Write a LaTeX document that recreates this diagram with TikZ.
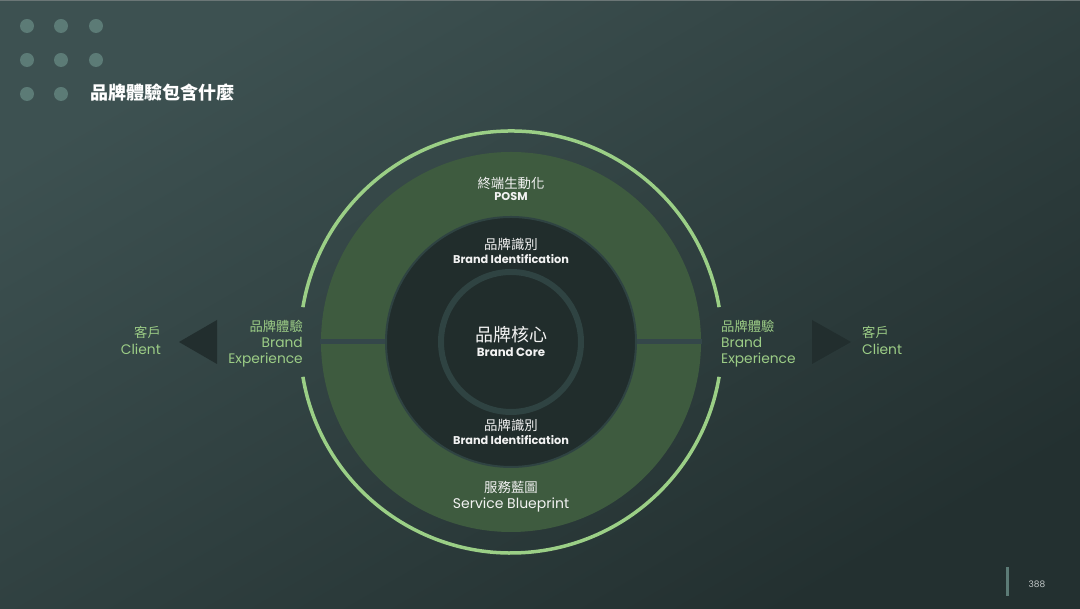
\documentclass[tikz,border=0pt]{standalone}
\usepackage{fontspec}
\setmainfont{Poppins}
\newfontfamily\cjk{Noto Sans CJK TC}
\definecolor{bgtop}{HTML}{3D5151}
\definecolor{bgbot}{HTML}{233030}
\definecolor{topedge}{HTML}{6B7676}
\definecolor{ringgreen}{HTML}{9BCF86}
\definecolor{fillgreen}{HTML}{3E5B3F}
\definecolor{coredark}{HTML}{212D2C}
\definecolor{coreline}{HTML}{2F4342}
\definecolor{bandcol}{HTML}{34474A}
\definecolor{dotcol}{HTML}{5C7B76}
\definecolor{txtgreen}{HTML}{9CCD86}
\definecolor{txtwhite}{HTML}{F2F2F2}
\definecolor{pagegray}{HTML}{C4CACA}
\definecolor{arrowdark}{HTML}{222E2E}
\begin{document}
\begin{tikzpicture}[x=1pt,y=1pt,
    dotfill/.style={fill=dotcol},
    outerring/.style={draw=ringgreen,line width=3.5pt},
    pointer/.style={fill=arrowdark},
    titlecn/.style={text=white,inner sep=0pt,font=\cjk\bfseries\fontsize{18}{20}\selectfont},
    corecn/.style={text=txtwhite,inner sep=0pt,font=\cjk\fontsize{18}{20}\selectfont},
    ringcn/.style={text=txtwhite,inner sep=0pt,font=\cjk\fontsize{13.4}{15}\selectfont},
    ringen/.style={text=txtwhite,inner sep=0pt,font=\bfseries\fontsize{11.3}{13}\selectfont},
    plainen/.style={text=txtwhite,inner sep=0pt,font=\fontsize{14}{16}\selectfont},
    sidecn/.style={text=txtgreen,inner sep=0pt,font=\cjk\fontsize{13.3}{15}\selectfont},
    sideen/.style={text=txtgreen,inner sep=0pt,font=\fontsize{13.8}{16}\selectfont}]
      \useasboundingbox (0,0) rectangle (1080,609);
      \shade[top color=bgtop,bottom color=bgbot,shading angle=30] (0,0) rectangle (1080,609);
      \fill[topedge] (0,607.5) rectangle (1080,609);
      \fill[dotfill] (27,583) circle (7pt); \fill[dotfill] (61,583) circle (7pt); \fill[dotfill] (96,583) circle (7pt);
      \fill[dotfill] (27,549) circle (7pt); \fill[dotfill] (61,549) circle (7pt); \fill[dotfill] (96,549) circle (7pt);
      \fill[dotfill] (27,515) circle (7pt); \fill[dotfill] (61,515) circle (7pt);
      \node[titlecn,anchor=west] (title) at (90,516) {品牌體驗包含什麼};
      \coordinate (core) at (511,267);
      \draw[outerring] ([shift={(9.5:211pt)}]core) arc[start angle=9.5,end angle=170.5,radius=211pt];
      \draw[outerring] ([shift={(189.5:211pt)}]core) arc[start angle=189.5,end angle=350.5,radius=211pt];
      \fill[fillgreen] (core) circle (190pt);
      \fill[bandcol] (320,264.5) rectangle (702,269.5);
      \draw[fill=coredark,draw=coreline,line width=2pt] (core) circle (125pt);
      \draw[coreline,line width=6pt] (core) circle (70pt);
      \node[ringcn] (posmcn) at (511,426) {終端生動化};
      \node[ringen] (posmen) at (511,412) {POSM};
      \node[ringcn] (idtopcn) at (511,365) {品牌識別};
      \node[ringen] (idtopen) at (511,350) {Brand Identification};
      \node[corecn] (corecn) at (511,274) {品牌核心};
      \node[ringen,font=\bfseries\fontsize{11.8}{13}\selectfont] (coreen) at (511,257) {Brand Core};
      \node[ringcn] (idbotcn) at (511,184) {品牌識別};
      \node[ringen] (idboten) at (511,169) {Brand Identification};
      \node[ringcn] (bluecn) at (511,122) {服務藍圖};
      \node[plainen] (blueen) at (511,104) {Service Blueprint};
      \node[sidecn,anchor=east] (leftcn) at (303,283) {品牌體驗};
      \node[sideen,anchor=east] (lefta) at (303,267) {Brand};
      \node[sideen,anchor=east] (leftb) at (303,249) {Experience};
      \node[sidecn,anchor=west] (rightcn) at (721,283) {品牌體驗};
      \node[sideen,anchor=west] (righta) at (721,267) {Brand};
      \node[sideen,anchor=west] (rightb) at (721,249) {Experience};
      \fill[pointer] (179,267) -- (217,289) -- (217,245) -- cycle;
      \fill[pointer] (851,267) -- (812,289) -- (812,245) -- cycle;
      \node[sidecn,anchor=east] (lclientcn) at (161,277) {客戶};
      \node[sideen,anchor=east] (lclienten) at (161,260) {Client};
      \node[sidecn,anchor=west] (rclientcn) at (862,277) {客戶};
      \node[sideen,anchor=west] (rclienten) at (862,260) {Client};
      \fill[dotcol] (1006,13) rectangle (1008.5,42);
      \node[text=pagegray,inner sep=0pt,font=\fontsize{9}{10}\selectfont] (page) at (1037,25) {388};
     \end{tikzpicture}
\end{document}
